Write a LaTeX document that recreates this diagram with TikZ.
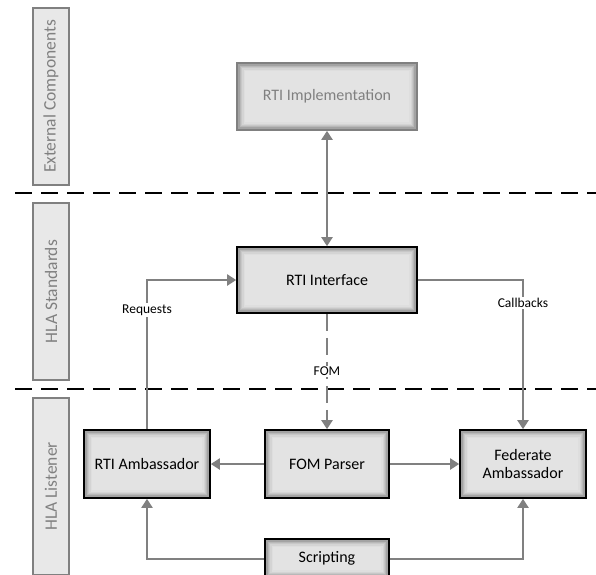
\documentclass[tikz,border=0pt]{standalone}
\usepackage{fontspec}
\setmainfont{Carlito}
\usetikzlibrary{arrows.meta}

\definecolor{linegray}{HTML}{808080}
\definecolor{lanefill}{HTML}{E8E8E8}

\tikzset{
  inshade/.style={path picture={
    \foreach \k/\c in {0/45,1.3/36,2.6/28,3.9/22,5.2/17,6.5/13,7.8/11}{
      \fill[black!\c] ([shift={(\k pt,-\k pt)}]path picture bounding box.north west)
        rectangle ([shift={(-\k pt,\k pt)}]path picture bounding box.south east);
    }}},
  block/.style={draw=black, line width=1.6pt, inshade, align=center,
    font=\fontsize{16}{18}\selectfont, inner sep=2pt},
  extblock/.style={block, draw=linegray, text=linegray},
  lane/.style={draw=linegray, line width=1.2pt, fill=lanefill, text=linegray,
    rotate=90, font=\fontsize{17.5}{19}\selectfont, inner sep=0pt},
  flow/.style={draw=linegray, line width=2pt, ->},
  tag/.style={fill=white, font=\fontsize{13.5}{15}\selectfont, inner sep=1.5pt},
  sep/.style={line width=2.2pt, dash pattern=on 17pt off 9pt},
  >={Triangle[length=9pt,width=11pt]},
}

\begin{document}
\begin{tikzpicture}[x=1pt,y=-1pt]
\useasboundingbox (0,0) rectangle (596,574);

% layers
\node[lane, minimum width=177pt, minimum height=36pt] (extlane) at (51,96.5) {External Components};
\node[lane, minimum width=177pt, minimum height=36pt] (stdlane) at (51,291.5) {HLA Standards};
\node[lane, minimum width=177pt, minimum height=36pt] (lstlane) at (51,486.5) {HLA Listener};

\draw[sep] (15,193) -- (596,193);
\draw[sep] (15,389) -- (596,389);

% blocks
\node[extblock, minimum width=180pt, minimum height=67pt] (impl) at (327,96.5) {RTI Implementation};
\node[block, minimum width=180pt, minimum height=66pt] (iface) at (327,280) {RTI Interface};
\node[block, minimum width=126pt, minimum height=68pt] (rtiamb) at (147,464) {RTI Ambassador};
\node[block, minimum width=124pt, minimum height=68pt] (fomparser) at (327,464) {FOM Parser};
\node[block, minimum width=126pt, minimum height=68pt] (fedamb) at (523,464) {Federate\\Ambassador};
\node[block, minimum width=124pt, minimum height=39pt] (script) at (327,558.5) {Scripting};

% connectors
\draw[flow,<->] (impl) -- (iface);
\draw[flow] (rtiamb.north) |- (iface.west) node[tag, pos=0.4] (reqlbl) {Requests};
\draw[flow] (iface.east) -| (fedamb.north) node[tag, pos=0.577] (cblbl) {Callbacks};
\draw[flow, dash pattern=on 17pt off 7pt] (iface) -- (fomparser) node[tag, midway] (fomlbl) {FOM};
\draw[flow] (fomparser) -- (rtiamb);
\draw[flow] (fomparser) -- (fedamb);
\draw[flow] (script.west) -| (rtiamb.south);
\draw[flow] (script.east) -| (fedamb.south);

\end{tikzpicture}
\end{document}
